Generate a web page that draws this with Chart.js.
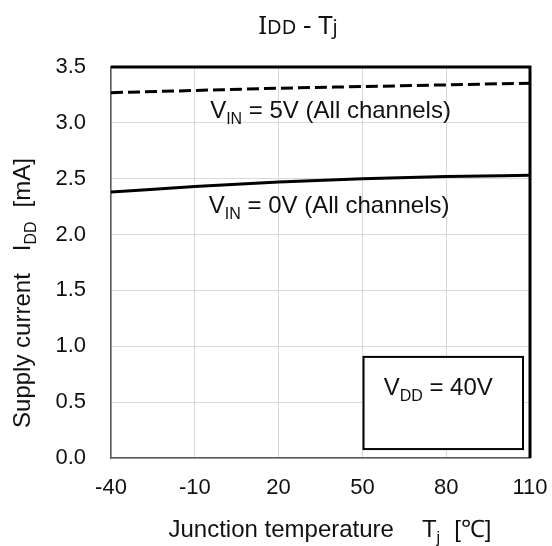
<!DOCTYPE html>
<html lang="en">
<head>
  <meta charset="UTF-8">
  <title>IDD - Tj</title>
  <script src="https://cdn.jsdelivr.net/npm/chart.js"></script>
  <style>
    html, body { margin: 0; padding: 0; background: #fff; }
    #chart { display: block; }
  </style>
</head>
<body>
  <canvas id="chart" width="552" height="546"></canvas>
  <script>
// Junction temperature [degC]
var temps = [-40, -10, 20, 50, 80, 110];
// Supply current IDD [mA], VDD = 40V
var iddVin5V = [3.27, 3.29, 3.31, 3.325, 3.34, 3.355];
var iddVin0V = [2.38, 2.43, 2.47, 2.50, 2.52, 2.53];

var FONT = "'Liberation Sans', Arial, sans-serif";

function toPoints(xs, ys) {
  var pts = [];
  for (var i = 0; i < xs.length; i++) {
    pts.push({ x: xs[i], y: ys[i] });
  }
  return pts;
}

/* Draw text made of parts (normal / subscript / smaller) from x at baseline y */
function partsWidth(ctx, parts) {
  var w = 0;
  for (var i = 0; i < parts.length; i++) {
    ctx.font = parts[i].size + "px " + (parts[i].family || FONT);
    w += ctx.measureText(parts[i].t).width + (parts[i].gap || 0);
  }
  return w;
}

function drawParts(ctx, x, y, parts) {
  for (var i = 0; i < parts.length; i++) {
    var p = parts[i];
    ctx.font = p.size + "px " + (p.family || FONT);
    ctx.fillText(p.t, x, y + (p.dy || 0));
    x += ctx.measureText(p.t).width + (p.gap || 0);
  }
}

var decorPlugin = {
  id: "decor",
  afterDraw: function(chart) {
    var ctx = chart.ctx;
    var area = chart.chartArea;
    var xs = chart.scales.x;
    var ys = chart.scales.y;
    ctx.save();

    // thick top and right frame
    ctx.strokeStyle = "#000";
    ctx.lineWidth = 3;
    ctx.beginPath();
    ctx.moveTo(area.left, area.top);
    ctx.lineTo(area.right, area.top);
    ctx.lineTo(area.right, area.bottom);
    ctx.stroke();

    ctx.fillStyle = "#111";
    ctx.textAlign = "left";
    ctx.textBaseline = "alphabetic";

    // curve labels
    drawParts(ctx, xs.getPixelForValue(-4.5), ys.getPixelForValue(3.044), [
      { t: "V", size: 24 },
      { t: "IN", size: 16, dy: 6 },
      { t: " = 5V (All channels)", size: 24 }
    ]);
    drawParts(ctx, xs.getPixelForValue(-5), ys.getPixelForValue(2.19), [
      { t: "V", size: 24 },
      { t: "IN", size: 16, dy: 6 },
      { t: " = 0V (All channels)", size: 24 }
    ]);

    // condition box
    var bx1 = xs.getPixelForValue(50.4), bx2 = xs.getPixelForValue(107.5);
    var by1 = ys.getPixelForValue(0.905), by2 = ys.getPixelForValue(0.08);
    ctx.fillStyle = "#fff";
    ctx.fillRect(bx1, by1, bx2 - bx1, by2 - by1);
    ctx.lineWidth = 2;
    ctx.strokeStyle = "#000";
    ctx.strokeRect(bx1, by1, bx2 - bx1, by2 - by1);
    ctx.fillStyle = "#111";
    drawParts(ctx, xs.getPixelForValue(57.6), ys.getPixelForValue(0.56), [
      { t: "V", size: 24 },
      { t: "DD", size: 16, dy: 6 },
      { t: " = 40V", size: 24 }
    ]);

    // chart title
    var titleParts = [
      { t: "I", size: 26, family: "'Noto Sans', sans-serif" },
      { t: "DD", size: 20, family: "'Noto Sans', sans-serif" },
      { t: " - T", size: 26, family: "'Noto Sans', sans-serif" },
      { t: "j", size: 20, family: "'Noto Sans', sans-serif" }
    ];
    drawParts(ctx, 298 - partsWidth(ctx, titleParts) / 2, 34, titleParts);

    // x axis title
    var xTitle = [
      { t: "Junction temperature", size: 24, gap: 28 },
      { t: "T", size: 24 },
      { t: "j", size: 16, dy: 6, gap: 14 },
      { t: "[\u2103]", size: 24 }
    ];
    drawParts(ctx, 330 - partsWidth(ctx, xTitle) / 2, 537, xTitle);

    // y axis title (rotated)
    var yTitle = [
      { t: "Supply current", size: 24, gap: 22 },
      { t: "I", size: 24 },
      { t: "DD", size: 16, dy: 6, gap: 14 },
      { t: "[mA]", size: 24 }
    ];
    ctx.translate(30, 293);
    ctx.rotate(-Math.PI / 2);
    drawParts(ctx, -partsWidth(ctx, yTitle) / 2, 0, yTitle);

    ctx.restore();
  }
};

new Chart(document.getElementById("chart"), {
  type: "line",
  data: {
    datasets: [{
      label: "VIN = 5V",
      data: toPoints(temps, iddVin5V),
      borderColor: "#000",
      borderWidth: 3,
      borderDash: [12, 5],
      pointRadius: 0,
      tension: 0.4,
      cubicInterpolationMode: "monotone"
    }, {
      label: "VIN = 0V",
      data: toPoints(temps, iddVin0V),
      borderColor: "#000",
      borderWidth: 3,
      pointRadius: 0,
      tension: 0.4,
      cubicInterpolationMode: "monotone"
    }]
  },
  options: {
    responsive: false,
    animation: false,
    layout: { padding: { left: 0, top: 67, right: 22, bottom: 0 } },
    plugins: {
      legend: { display: false },
      tooltip: { enabled: false }
    },
    scales: {
      x: {
        type: "linear",
        min: -40,
        max: 110,
        afterFit: function(scale) {
          scale.height = 88;
          scale.paddingLeft = 0;
          scale.paddingRight = 0;
        },
        ticks: {
          stepSize: 30,
          padding: 17,
          color: "#111",
          font: { family: FONT, size: 22 }
        },
        grid: { color: "#d9d9d9", lineWidth: 1, drawTicks: false },
        border: { color: "#595959", width: 1.5 }
      },
      y: {
        min: 0,
        max: 3.5,
        afterFit: function(scale) {
          scale.width = 111;
          scale.paddingTop = 0;
          scale.paddingBottom = 0;
        },
        ticks: {
          stepSize: 0.5,
          padding: 25,
          color: "#111",
          font: { family: FONT, size: 22 },
          callback: function(v) { return v.toFixed(1); }
        },
        grid: { color: "#d9d9d9", lineWidth: 1, drawTicks: false },
        border: { color: "#595959", width: 1.5 }
      }
    }
  },
  plugins: [decorPlugin]
});
  </script>
</body>
</html>
